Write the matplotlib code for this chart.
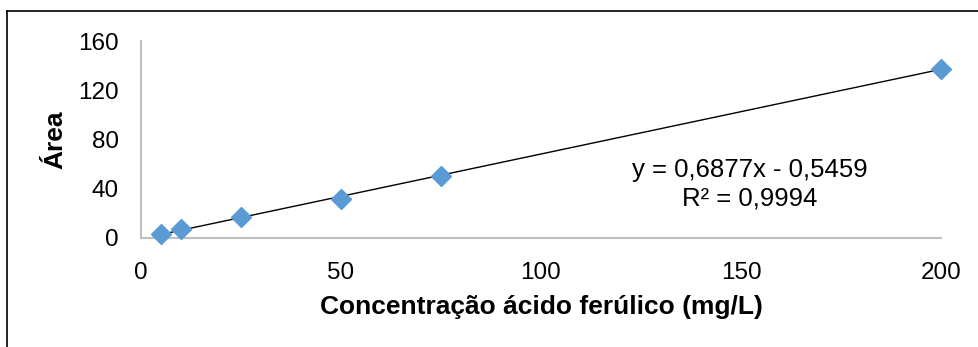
import matplotlib.pyplot as plt
from matplotlib.lines import Line2D

plt.rcParams['font.family'] = ['Liberation Sans', 'DejaVu Sans']

# Calibration data
conc = [5, 10, 25, 50, 75, 200]
area = [3.6, 7.2, 16.8, 31.6, 50.4, 137.6]

# Linear trendline
slope = 0.6877
intercept = -0.5459
r2 = 0.9994

x_ticks = [0, 50, 100, 150, 200]
y_ticks = [0, 40, 80, 120, 160]

fig = plt.figure(figsize=(9.79, 3.47), dpi=100)
ax = fig.add_axes([141 / 979, 109 / 347, 800 / 979, 197 / 347])

# trendline across the data range
x_line = [min(conc), max(conc)]
y_line = [slope * x + intercept for x in x_line]
ax.plot(x_line, y_line, color='black', linewidth=1, zorder=2)

ax.plot(conc, area, linestyle='none', marker='D', markersize=10.5,
        markerfacecolor='#5B9BD5', markeredgecolor='#5B9BD5', zorder=3,
        clip_on=False)

ax.set_xlim(0, 200)
ax.set_ylim(0, 160)
ax.set_xticks(x_ticks)
ax.set_yticks(y_ticks)
ax.tick_params(axis='both', length=0, labelsize=17.5, colors='black')
ax.tick_params(axis='x', pad=17.5)
ax.tick_params(axis='y', pad=16)

for side in ['top', 'right']:
    ax.spines[side].set_visible(False)
for side in ['left', 'bottom']:
    ax.spines[side].set_color('#BFBFBF')
    ax.spines[side].set_linewidth(1.5)

ax.set_xlabel('Concentração ácido ferúlico (mg/L)', fontsize=19,
              fontweight='bold')
ax.set_ylabel('Área', fontsize=19, fontweight='bold')
ax.xaxis.set_label_coords(0.5, -0.29)
ax.yaxis.set_label_coords(-0.092, 0.5)

ax.text(0.761, 0.345, 'y = {:.4f}x - {:.4f}'.format(slope, -intercept).replace('.', ','),
        transform=ax.transAxes, ha='center', va='center', fontsize=18.5)
ax.text(0.761, 0.203, 'R² = {:.4f}'.format(r2).replace('.', ','),
        transform=ax.transAxes, ha='center', va='center', fontsize=18.5)

# outer frame (left and top only visible)
fig.add_artist(Line2D([7 / 979, 7 / 979], [0, 336 / 347], color='black',
                      linewidth=1.2, transform=fig.transFigure))
fig.add_artist(Line2D([7 / 979, 1], [336 / 347, 336 / 347], color='black',
                      linewidth=1.2, transform=fig.transFigure))

fig.savefig('out.png', dpi=100)
